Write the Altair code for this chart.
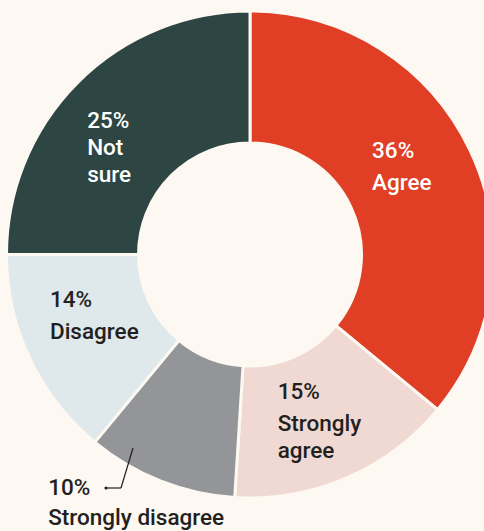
import altair as alt
import pandas as pd

categories = ["Agree", "Strongly agree", "Strongly disagree", "Disagree", "Not sure"]
values = [36, 15, 10, 14, 25]
pct_labels = ["36%", "15%", "10%", "14%", "25%"]
name_labels = [["Agree"], ["Strongly", "agree"], ["Strongly disagree"], ["Disagree"], ["Not", "sure"]]
colors = ["#e03e25", "#f0d9d3", "#939598", "#dfe8ea", "#2d4644"]
text_colors = ["#ffffff", "#231f20", "#231f20", "#231f20", "#ffffff"]

BG = "#fdf8f1"
CX, CY = 250, 254.5
FONT = "Roboto"

starts, ends, mids = [], [], []
acc = 0
for v in values:
    starts.append(acc)
    ends.append(acc + v)
    mids.append(acc + v / 2)
    acc += v

df = pd.DataFrame({
    "cat": categories, "value": values, "start": starts, "end": ends, "mid": mids,
    "pct": pct_labels, "name": name_labels,
})

theta_scale = alt.Scale(domain=[0, 100])
color_scale = alt.Scale(domain=categories, range=colors)

base = alt.Chart(df)

arcs = base.mark_arc(outerRadius=243.5, innerRadius=111.5, stroke=BG, strokeWidth=3).encode(
    theta=alt.Theta("start:Q", scale=theta_scale),
    theta2="end:Q",
    color=alt.Color("cat:N", scale=color_scale, legend=None),
    x=alt.value(CX), y=alt.value(CY),
)

# label style offsets: (label radius, dx, pct dy, name dy, name line height)
label_style = {
    "Agree": (178, -39, -21, 11, 27),
    "Strongly agree": (178, -43, -19, 13, 27),
    "Strongly disagree": (290, -95, -29, 1, 27),
    "Disagree": (178, -39, -23, 9, 27),
    "Not sure": (178, -37, -1, 26, 27),
}

layers = [arcs]
for cat, tc in zip(categories, text_colors):
    r, dx, dyp, dyn, lh = label_style[cat]
    sub = base.transform_filter(alt.datum.cat == cat)
    common = dict(align="left", baseline="alphabetic", font=FONT, fontSize=22.5,
                  fontWeight=500, color=tc, radius=r, dx=dx)
    layers.append(sub.mark_text(dy=dyp, **common).encode(
        theta=alt.Theta("mid:Q", scale=theta_scale), text="pct:N",
        x=alt.value(CX), y=alt.value(CY)))
    layers.append(sub.mark_text(dy=dyn, lineHeight=lh, **common).encode(
        theta=alt.Theta("mid:Q", scale=theta_scale), text="name",
        x=alt.value(CX), y=alt.value(CY)))

leader1 = alt.Chart(df.head(1)).mark_rule(color="#231f20", strokeWidth=1.2).encode(
    x=alt.value(133), y=alt.value(448), x2=alt.value(121), y2=alt.value(488))
leader2 = alt.Chart(df.head(1)).mark_rule(color="#231f20", strokeWidth=1.2).encode(
    x=alt.value(121), y=alt.value(488), x2=alt.value(106), y2=alt.value(488))
dot = alt.Chart(df.head(1)).mark_circle(color="#231f20", size=10, opacity=1).encode(
    x=alt.value(106), y=alt.value(488))
layers += [leader1, leader2, dot]

chart = alt.layer(*layers).resolve_scale(theta="shared").properties(
    width=484, height=531, padding=0, background=BG,
    autosize=alt.AutoSizeParams(type="none"),
).configure_view(stroke=None)

chart.save("out.html", embed_options={"renderer": "svg", "actions": False})
